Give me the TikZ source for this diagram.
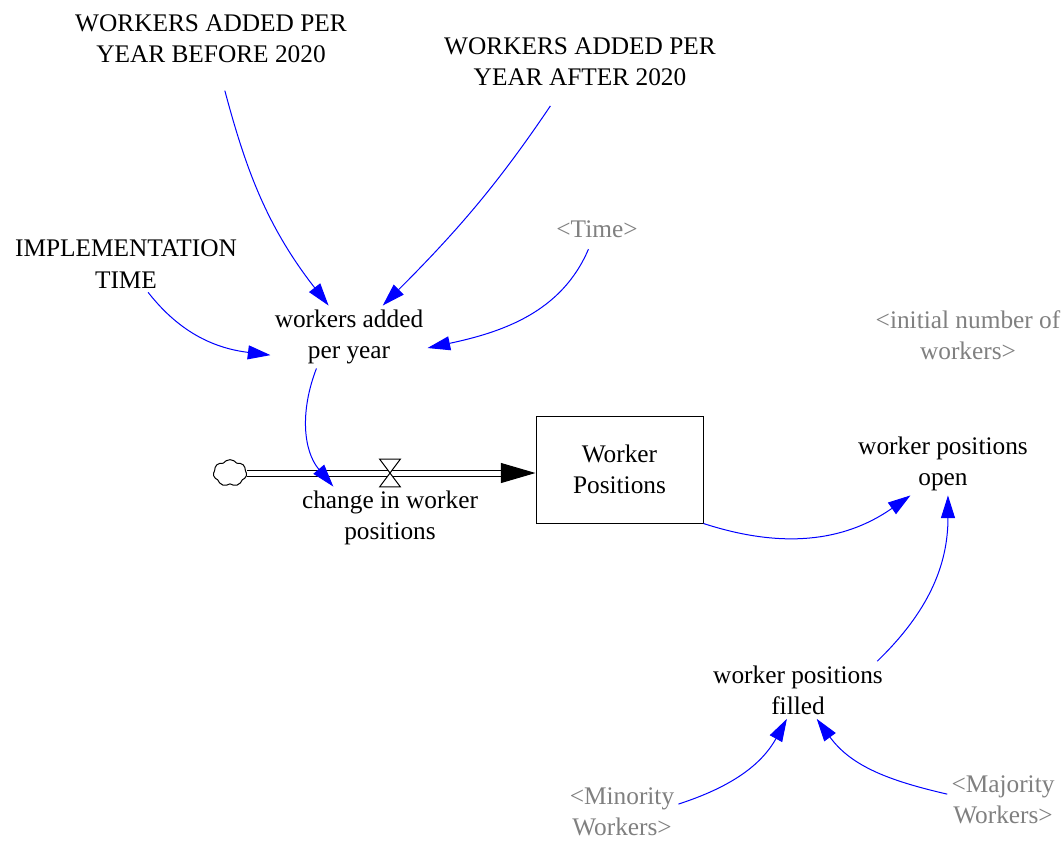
\documentclass[tikz,border=0pt]{standalone}
\usepackage{fontspec}
\setmainfont{Liberation Serif}
\usepackage{tikz}
\usetikzlibrary{arrows.meta}
\usetikzlibrary{shapes.symbols}

\tikzset{
	var/.style={rectangle, align=center, inner sep=3pt, font=\fontsize{19}{23.5}\selectfont},
	shadowvar/.style={var, text=gray},
	stock/.style={rectangle, draw=black, line width=0.75pt, align=center, minimum width=125.25pt, minimum height=80.25pt, font=\fontsize{19}{23.5}\selectfont},
	link/.style={draw=blue, line width=0.75pt, -{Triangle[length=17pt,width=10.5pt]}},
	pipe/.style={draw=black, line width=0.75pt, double=white, double distance=3.75pt, -{Triangle[length=26pt,width=15pt]}}
}

\begin{document}
\begin{tikzpicture}[x=0.75pt, y=0.75pt]
		\useasboundingbox (0,0) rectangle (1061,-840);

		\node[var] (wbefore) at (211,-39) {WORKERS ADDED PER\\YEAR BEFORE 2020};
		
		\node[var] (wafter) at (580,-62) {WORKERS ADDED PER\\YEAR AFTER 2020};
		
		\node[var] (impl) at (126,-264) {IMPLEMENTATION\\TIME};
		
		\node[shadowvar] (time) at (597,-229) {<Time>};
		
		\node[var] (wadd) at (349,-337) {workers added\\per year};
		
		\node[shadowvar] (initial) at (968,-335) {<initial number of\\workers>};
		
		\node[stock] (stock) at (619.5,-469.5) {Worker\\Positions};
		
		\node[cloud, draw, line width=0.75pt, cloud puffs=7, cloud puff arc=110, aspect=1.2, minimum width=25pt, minimum height=20pt, inner sep=0pt] (cloud) at (230,-473) {};
		
		\node[minimum width=15pt, minimum height=20.25pt, inner sep=0pt] (valve) at (390,-473) {};
		
		\node[var] (chg) at (390,-518) {change in worker\\positions};
		
		\node[var] (wopen) at (943,-464) {worker positions\\open};
		
		\node[var] (filled) at (798,-690) {worker positions\\filled};
		
		\node[shadowvar] (mino) at (622,-812) {<Minority\\Workers>};
		
		\node[shadowvar] (majo) at (1003,-800) {<Majority\\Workers>};
		
		\draw[pipe] (cloud.east) -- (cloud.east -| stock.west);
		\filldraw[fill=white, line width=0.75pt] (valve.north west) -- (valve.north east) -- (valve.south west) -- (valve.south east) -- cycle;
		
		\draw[link, shorten <=18pt] (wbefore) to[out=-75, in=128] (wadd.123);
		\draw[link, shorten <=14pt] (wafter) to[out=-124, in=45] (wadd.43);
		\draw[link] (impl) to[out=-52, in=173] (wadd.193);
		\draw[link, shorten <=6pt] (time) to[out=-113, in=12] (wadd.-8);
		\draw[link] (wadd.224) to[out=-111, in=130] (chg.151);
		\draw[link] (stock.south east) to[out=-18, in=215] (wopen.224);
		\draw[link] (filled.20) to[out=44, in=-90] (wopen.-81);
		\draw[link] (mino.8) to[out=18, in=-119] (filled.249);
		\draw[link] (majo.174) to[out=167, in=-54] (filled.-57);
\end{tikzpicture}
\end{document}
